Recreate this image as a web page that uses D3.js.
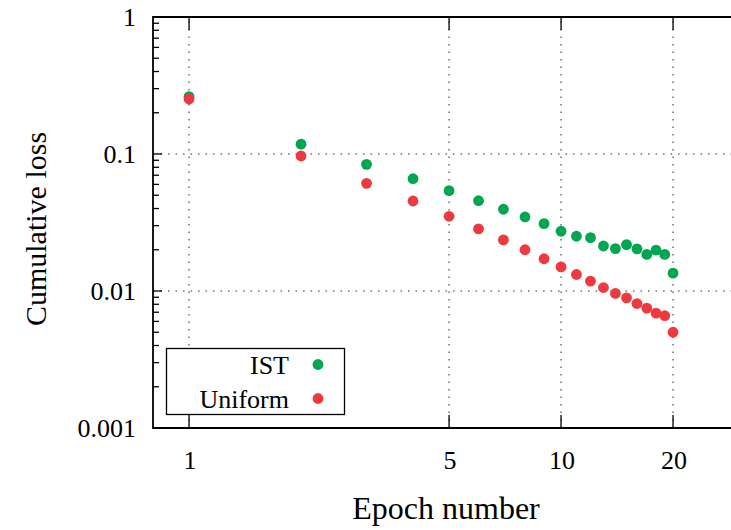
<!DOCTYPE html>
<html>
<head>
<meta charset="utf-8">
<script src="https://cdn.jsdelivr.net/npm/d3@7"></script>
<style>
  body { margin: 0; background: #fff; }
  svg text { font-family: "Liberation Serif", Tinos, "Times New Roman", Times, "DejaVu Serif", serif; }
</style>
</head>
<body>
<script>
// data
const epochs = d3.range(1, 21);
const ist = [0.262, 0.118, 0.084, 0.066, 0.054, 0.0456, 0.0395, 0.0347, 0.031, 0.0273,
             0.0251, 0.0245, 0.0213, 0.0204, 0.0218, 0.0203, 0.0185, 0.0199, 0.0185, 0.0135];
const uniform = [0.252, 0.0967, 0.0611, 0.0454, 0.0351, 0.0284, 0.0236, 0.0200, 0.0172, 0.0150,
                 0.0132, 0.0118, 0.0106, 0.0096, 0.0089, 0.0081, 0.0075, 0.0069, 0.0066, 0.0050];
const xTicks = [1, 5, 10, 20];
const yTicks = [1, 0.1, 0.01, 0.001];
const yLabels = ['1', '0.1', '0.01', '0.001'];
const seriesNames = ['IST', 'Uniform'];
const colors = ['#00a650', '#ee3a3f'];

const W = 731, H = 530;
const margin = {top: 17, left: 153, bottom: 102};
const plotH = H - margin.top - margin.bottom;

const svg = d3.select('body').append('svg')
  .attr('width', W).attr('height', H);

// x: 0.8 .. 30, about 372px per decade
const xscale = d3.scaleLog().domain([0.8, 30]).range([margin.left, margin.left + 372 * Math.log10(30 / 0.8)]);
const yscale = d3.scaleLog().domain([0.001, 1]).range([margin.top + plotH, margin.top]);

const x0 = xscale.range()[0];
const yB = yscale.range()[0], yT = yscale.range()[1];

// grid
const grid = svg.append('g')
  .attr('stroke', '#777').attr('stroke-width', 1.6)
  .attr('stroke-dasharray', '1.6,5.9');
grid.selectAll('.gx').data(xTicks).join('line')
  .attr('x1', d => xscale(d)).attr('x2', d => xscale(d))
  .attr('y1', yB).attr('y2', yT);
grid.selectAll('.gy').data([0.1, 0.01]).join('line')
  .attr('x1', x0).attr('x2', W)
  .attr('y1', d => yscale(d)).attr('y2', d => yscale(d));

// y ticks, major and minor
const minor = [];
[0.001, 0.01, 0.1].forEach(dec => { for (let k = 2; k <= 9; k++) minor.push(dec * k); });
const ax = svg.append('g').attr('stroke', '#000').attr('stroke-width', 1.3);
ax.selectAll('.ymaj').data(yTicks).join('line')
  .attr('x1', x0).attr('x2', x0 + 9)
  .attr('y1', d => yscale(d)).attr('y2', d => yscale(d));
ax.selectAll('.ymin').data(minor).join('line')
  .attr('x1', x0).attr('x2', x0 + 6)
  .attr('y1', d => yscale(d)).attr('y2', d => yscale(d));
// x ticks, bottom and mirrored on top
ax.selectAll('.xb').data(xTicks).join('line')
  .attr('x1', d => xscale(d)).attr('x2', d => xscale(d))
  .attr('y1', yB).attr('y2', yB - 13);
ax.selectAll('.xt').data(xTicks).join('line')
  .attr('x1', d => xscale(d)).attr('x2', d => xscale(d))
  .attr('y1', yT).attr('y2', yT + 13);

// frame (right side falls outside the picture)
svg.append('path')
  .attr('d', `M${W},${yT}H${x0}V${yB}H${W}`)
  .attr('fill', 'none').attr('stroke', '#000').attr('stroke-width', 1.8);

// tick labels
svg.selectAll('.xl').data(xTicks).join('text')
  .attr('x', d => xscale(d) + 1).attr('y', yB + 41)
  .attr('text-anchor', 'middle').attr('font-size', 26)
  .text(d => d);
svg.selectAll('.yl').data(yTicks).join('text')
  .attr('x', 136).attr('y', d => yscale(d) + 9)
  .attr('text-anchor', 'end').attr('font-size', 26)
  .text((d, i) => yLabels[i]);

// axis titles
svg.append('text')
  .attr('x', 446).attr('y', 519)
  .attr('text-anchor', 'middle').attr('font-size', 32)
  .text('Epoch number');
svg.append('text')
  .attr('transform', 'translate(46,229) rotate(-90)')
  .attr('text-anchor', 'middle').attr('font-size', 30)
  .text('Cumulative loss');

// points
[ist, uniform].forEach((vals, s) => {
  svg.append('g').selectAll('circle').data(epochs).join('circle')
    .attr('cx', d => xscale(d))
    .attr('cy', (d, i) => yscale(vals[i]))
    .attr('r', 5.4)
    .attr('fill', colors[s]);
});

// legend
const lg = svg.append('g');
lg.append('rect')
  .attr('x', 166.5).attr('y', 348.5).attr('width', 178).attr('height', 66)
  .attr('fill', '#fff').attr('stroke', '#000').attr('stroke-width', 1.3);
seriesNames.forEach((name, i) => {
  const cy = 364.5 + i * 34;
  lg.append('text').attr('x', 289).attr('y', cy + 9)
    .attr('text-anchor', 'end').attr('font-size', 26).text(name);
  lg.append('circle').attr('cx', 318).attr('cy', cy).attr('r', 5.4).attr('fill', colors[i]);
});
</script>
</body>
</html>
